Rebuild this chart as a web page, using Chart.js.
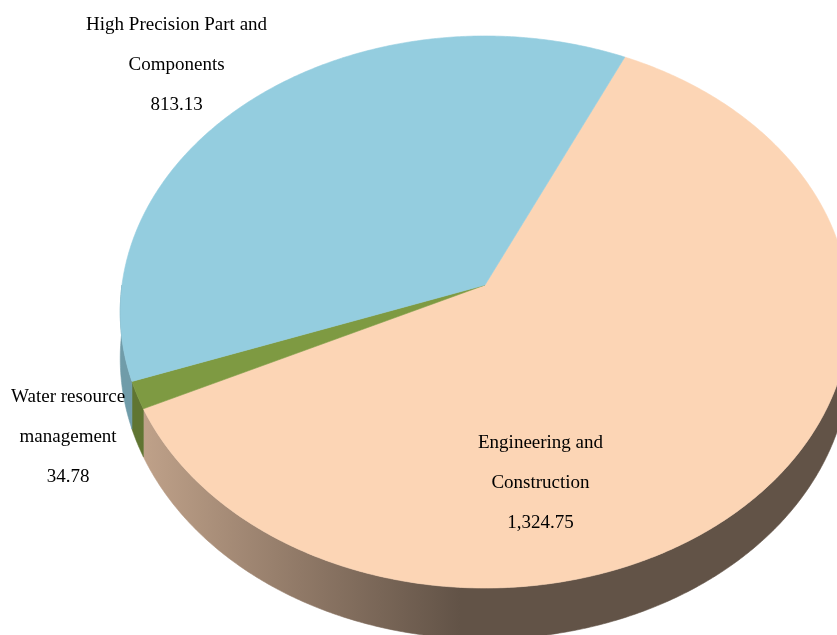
<!DOCTYPE html>
<html>
<head>
<meta charset="utf-8">
<title>Segment revenue</title>
<script src="https://cdn.jsdelivr.net/npm/chart.js@4.4.1/dist/chart.umd.min.js"></script>
<style>
  html, body { margin: 0; padding: 0; background: #fff; overflow: hidden; }
  #chart { display: block; }
</style>
</head>
<body>
<canvas id="chart" width="837" height="635"></canvas>
<script>
// Revenue by business segment
const segmentNames = [
  ['Engineering and', 'Construction'],
  ['Water resource', 'management'],
  ['High Precision Part and', 'Components']
];
const segmentValues = [1324.75, 34.78, 813.13];
const segmentColors = ['#FCD5B5', '#7E9A42', '#94CDDF'];

// label spot per slice: shift from the slice middle (deg) and radius (1 = rim)
const labelPlacement = [[33.5, 0.69], [-3, 1.21], [-4, 1.27]];

// tilted disc seen in perspective, plus the thickness of the rim
const view = { cx: 485, cy: 285, a: 3710, b: 2794, d: 10.22, h: 470 };

function project(angle, r, z) {
  const u = r * Math.cos(angle), v = r * Math.sin(angle);
  const w = view.d - v;
  return [view.cx + view.a * u / w, view.cy + (view.b * v + view.h * z) / w];
}

function shade(hex, f) {
  const n = parseInt(hex.slice(1), 16);
  const r = Math.round(((n >> 16) & 255) * f);
  const g = Math.round(((n >> 8) & 255) * f);
  const b = Math.round((n & 255) * f);
  return `rgb(${r},${g},${b})`;
}

// parts of [a0, a1] that lie on the front half of the rim
function frontParts(a0, a1) {
  const parts = [];
  for (let k = -1; k <= 1; k++) {
    const lo = Math.max(a0, k * 2 * Math.PI), hi = Math.min(a1, k * 2 * Math.PI + Math.PI);
    if (hi > lo) parts.push([lo, hi]);
  }
  return parts;
}

const STEP = Math.PI / 360;

const pie3d = {
  id: 'pie3d',
  beforeDatasetsDraw(chart) {
    const ctx = chart.ctx;
    const arcs = chart.getDatasetMeta(0).data;
    ctx.save();

    // rim walls, lighter on the left and darker towards the right
    arcs.forEach((arc, i) => {
      const color = segmentColors[i];
      frontParts(arc.startAngle, arc.endAngle).forEach(([a0, a1]) => {
        const grad = ctx.createLinearGradient(140, 0, 460, 0);
        grad.addColorStop(0, shade(color, 0.76));
        grad.addColorStop(0.5, shade(color, 0.57));
        grad.addColorStop(1, shade(color, 0.39));
        ctx.beginPath();
        for (let t = a0; t < a1; t += STEP) ctx.lineTo(...project(t, 1, 0));
        ctx.lineTo(...project(a1, 1, 0));
        for (let t = a1; t > a0; t -= STEP) ctx.lineTo(...project(t, 1, 1));
        ctx.lineTo(...project(a0, 1, 1));
        ctx.closePath();
        ctx.fillStyle = grad;
        ctx.strokeStyle = grad;
        ctx.lineWidth = 0.6;
        ctx.fill();
        ctx.stroke();
      });
    });

    // top faces
    arcs.forEach((arc, i) => {
      ctx.beginPath();
      ctx.moveTo(...project(0, 0, 0));
      for (let t = arc.startAngle; t < arc.endAngle; t += STEP) ctx.lineTo(...project(t, 1, 0));
      ctx.lineTo(...project(arc.endAngle, 1, 0));
      ctx.closePath();
      ctx.fillStyle = segmentColors[i];
      ctx.strokeStyle = segmentColors[i];
      ctx.lineWidth = 0.6;
      ctx.fill();
      ctx.stroke();
    });

    ctx.restore();
    // the flat arcs are replaced by the tilted ones above
    return false;
  },
  afterDraw(chart) {
    const ctx = chart.ctx;
    const arcs = chart.getDatasetMeta(0).data;
    ctx.save();
    ctx.font = '19px "Liberation Serif", "Times New Roman", serif';
    ctx.textAlign = 'center';
    ctx.textBaseline = 'middle';
    ctx.fillStyle = '#000';
    arcs.forEach((arc, i) => {
      const [shift, r] = labelPlacement[i];
      const mid = (arc.startAngle + arc.endAngle) / 2 + shift * Math.PI / 180;
      const [x, y] = project(mid, r, 0);
      const value = segmentValues[i].toLocaleString('en-US', { minimumFractionDigits: 2, maximumFractionDigits: 2 });
      const lines = [...segmentNames[i], value];
      lines.forEach((line, k) => ctx.fillText(line, x, y + (k - 1) * 40));
    });
    ctx.restore();
  }
};

new Chart(document.getElementById('chart'), {
  type: 'pie',
  data: {
    labels: segmentNames,
    datasets: [{
      data: segmentValues,
      backgroundColor: segmentColors,
      borderWidth: 0
    }]
  },
  options: {
    responsive: false,
    animation: false,
    rotation: 24.8,
    plugins: {
      legend: { display: false },
      tooltip: { enabled: false }
    }
  },
  plugins: [pie3d]
});
</script>
</body>
</html>
